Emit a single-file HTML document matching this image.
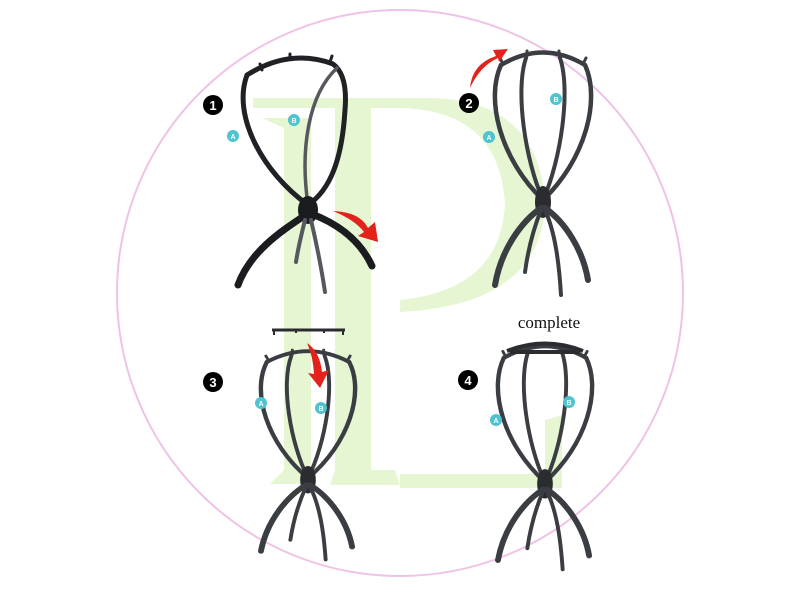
<!DOCTYPE html>
<html><head><meta charset="utf-8"><style>html,body{margin:0;padding:0;background:#fff;}svg{display:block}</style></head>
<body>
<svg width="800" height="600" viewBox="0 0 800 600" xmlns="http://www.w3.org/2000/svg">
<defs>
<g id="stand" fill="none" stroke="#3a3d42" stroke-linecap="round">
  <path d="M0,0 C-42,-40 -58,-100 -42,-135" stroke-width="4.5"/>
  <path d="M0,0 C42,-40 58,-100 42,-135" stroke-width="4.5"/>
  <path d="M0,0 C-18,-40 -28,-110 -17,-142" stroke-width="4"/>
  <path d="M0,0 C18,-40 28,-110 17,-142" stroke-width="4"/>
  <path d="M-42,-135 Q0,-160 42,-135" stroke-width="4.5"/>
  <path d="M-40,-136 l-3,-6 M40,-136 l3,-6 M-16,-144 l0,-5 M16,-144 l0,-5" stroke-width="3"/>
  <ellipse cx="0" cy="2" rx="8" ry="16" fill="#2a2c30" stroke="none"/>
  <path d="M-2,8 C-22,22 -42,50 -48,85" stroke-width="6"/>
  <path d="M2,8 C22,22 40,50 45,80" stroke-width="6"/>
  <path d="M-2,10 C-10,30 -15,50 -18,72" stroke-width="4"/>
  <path d="M2,10 C12,32 16,62 18,95" stroke-width="4"/>
</g>
</defs>
<!-- pink circle -->
<circle cx="400" cy="293" r="283" fill="none" stroke="#eec3e6" stroke-width="2"/>
<!-- green logo -->
<g fill="#e6f5d2">
  <path d="M253,98 L430,98 Q540,100 545,205 Q540,305 400,312 L400,300 Q500,290 505,205 Q500,110 400,108 L253,108 Z"/>
  <rect x="335" y="100" width="36" height="385"/>
  <path d="M335,470 L395,470 L400,485 L330,485 Z"/>
  <rect x="284" y="118" width="27" height="366"/>
  <path d="M262,118 L284,118 L284,128 Z M270,484 L284,470 L311,470 L311,484 Z"/>
  <path d="M400,474 L545,474 L545,420 L562,415 L562,488 L400,488 Z"/>
</g>
<!-- stand 1 -->
<g fill="none" stroke-linecap="round">
  <path d="M308,205 C262,172 232,115 247,75 Q290,48 333,64 Q348,75 345,110 C342,160 330,190 308,205" stroke="#1f2124" stroke-width="5"/>
  <path d="M262,70 l-2,-6 M290,58 l0,-4 M330,62 l2,-6" stroke="#1f2124" stroke-width="3"/>
  <path d="M308,205 C300,150 308,95 337,68" stroke="#55585e" stroke-width="3.5"/>
  <ellipse cx="308" cy="210" rx="10" ry="14" fill="#1a1c1f"/>
  <path d="M304,216 C280,232 250,252 238,285" stroke="#1a1c1f" stroke-width="7"/>
  <path d="M312,214 C338,224 360,240 372,266" stroke="#1a1c1f" stroke-width="7"/>
  <path d="M305,220 C300,240 297,255 296,262" stroke="#55585e" stroke-width="4"/>
  <path d="M311,220 C318,250 322,272 325,292" stroke="#55585e" stroke-width="4"/>
</g>
<use href="#stand" transform="translate(543,200)"/>
<use href="#stand" transform="translate(308,478) scale(0.98,0.86)"/>
<use href="#stand" transform="translate(545,482) scale(0.98,0.92)"/>
<!-- stand 3 top ring -->
<path d="M272,330 L345,330" stroke="#2a2c30" stroke-width="3"/>
<path d="M274,330 l0,5 M343,330 l0,5 M296,330 l0,3 M324,330 l0,3" stroke="#2a2c30" stroke-width="2"/>
<!-- stand 4 top ring -->
<path d="M507,351 Q545,336 583,351 M510,352 L580,352" stroke="#2a2c30" stroke-width="4" fill="none"/>
<!-- red arrows -->
<path d="M333,211 Q360,212 368,228 L375,222 L378,242 L358,236 L364,232 Q355,220 333,211 Z" fill="#e3221c"/>
<path d="M470,88 Q472,64 496,56 L493,50 L508,49 L499,62 L498,58 Q480,66 470,88 Z" fill="#e3221c"/>
<path d="M307,343 Q320,352 322,372 L329,370 L320,388 L308,373 L314,374 Q313,356 307,343 Z" fill="#e3221c"/>
<!-- number badges -->
<g font-family="Liberation Sans, sans-serif" font-weight="bold" font-size="13" fill="#fff" text-anchor="middle">
  <circle cx="213" cy="105" r="10" fill="#000"/><text x="213" y="110">1</text>
  <circle cx="469" cy="103" r="10" fill="#000"/><text x="469" y="108">2</text>
  <circle cx="213" cy="382" r="10" fill="#000"/><text x="213" y="387">3</text>
  <circle cx="468" cy="380" r="10" fill="#000"/><text x="468" y="385">4</text>
</g>
<!-- A/B labels -->
<g font-family="Liberation Sans, sans-serif" font-size="7" fill="#fff" text-anchor="middle" font-weight="bold">
  <circle cx="233" cy="136" r="6" fill="#4fc3cf"/><text x="233" y="139">A</text>
  <circle cx="294" cy="120" r="6" fill="#4fc3cf"/><text x="294" y="123">B</text>
  <circle cx="489" cy="137" r="6" fill="#4fc3cf"/><text x="489" y="140">A</text>
  <circle cx="556" cy="99" r="6" fill="#4fc3cf"/><text x="556" y="102">B</text>
  <circle cx="261" cy="403" r="6" fill="#4fc3cf"/><text x="261" y="406">A</text>
  <circle cx="321" cy="408" r="6" fill="#4fc3cf"/><text x="321" y="411">B</text>
  <circle cx="496" cy="420" r="6" fill="#4fc3cf"/><text x="496" y="423">A</text>
  <circle cx="569" cy="402" r="6" fill="#4fc3cf"/><text x="569" y="405">B</text>
</g>
<text x="549" y="328" font-family="Liberation Serif, serif" font-size="17" text-anchor="middle" fill="#111">complete</text>
</svg>
</body></html>
